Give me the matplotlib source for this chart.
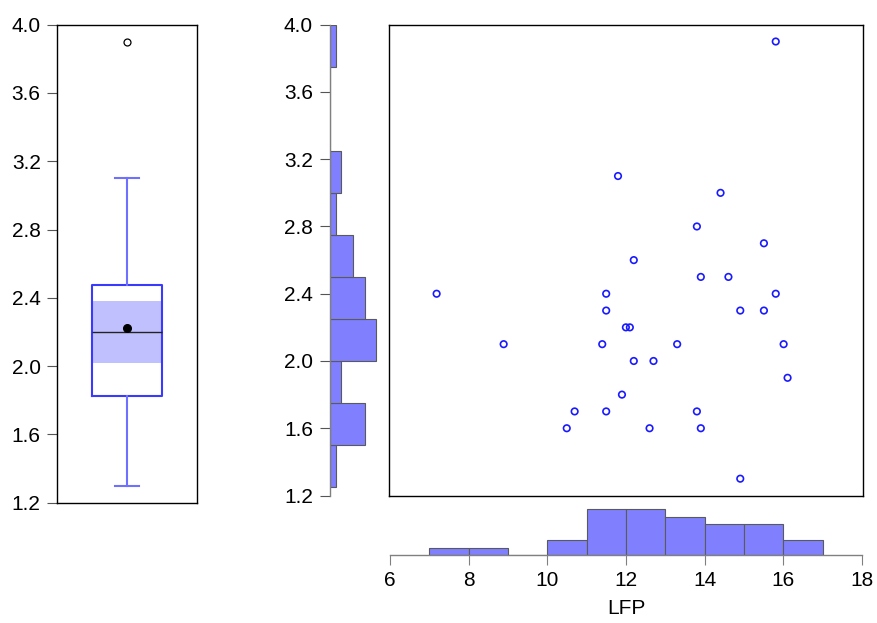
import numpy as np
import matplotlib
matplotlib.use("Agg")
import matplotlib.pyplot as plt
from matplotlib.patches import Rectangle

plt.rcParams['font.family'] = ['Liberation Sans', 'DejaVu Sans']

# Data (LFP on x, second variable on y)
lfp = [15.8, 11.8, 14.4, 13.8, 15.5, 12.2, 13.9, 14.6, 7.2, 11.5, 15.8,
       11.5, 14.9, 15.5, 12.0, 12.1, 8.9, 11.4, 13.3, 16.0, 12.2, 12.7,
       16.1, 11.9, 10.7, 11.5, 13.8, 10.5, 12.6, 13.9, 14.9]
yvar = [3.9, 3.1, 3.0, 2.8, 2.7, 2.6, 2.5, 2.5, 2.4, 2.4, 2.4,
        2.3, 2.3, 2.3, 2.2, 2.2, 2.1, 2.1, 2.1, 2.1, 2.0, 2.0,
        1.9, 1.8, 1.7, 1.7, 1.7, 1.6, 1.6, 1.6, 1.3]

x_bins = np.arange(7, 18, 1)
y_bins = np.arange(1.25, 4.01, 0.25)
y_ticks = [1.2, 1.6, 2.0, 2.4, 2.8, 3.2, 3.6, 4.0]
x_ticks = [6, 8, 10, 12, 14, 16, 18]
x_label = "LFP"

W, H = 877, 623
fig = plt.figure(figsize=(W / 100, H / 100), dpi=100)

def ax_px(x0, y0, x1, y1):
    return fig.add_axes([x0 / W, 1 - y1 / H, (x1 - x0) / W, (y1 - y0) / H])

FS = 15
bar_color = '#8080ff'
bar_edge = '#5a5a5a'
tick_kw = dict(labelsize=FS, length=7, width=0.8, pad=5, color='#555555')

# ---------- Box plot panel ----------
axb = ax_px(57.3, 24.7, 196.7, 502.7)
y = np.array(yvar)
q1, med, q3 = np.quantile(y, [0.25, 0.5, 0.75], method='hazen')
iqr = q3 - q1
lo_fence, hi_fence = q1 - 1.5 * iqr, q3 + 1.5 * iqr
wlo = y[y >= lo_fence].min()
whi = y[y <= hi_fence].max()
fliers = y[(y < lo_fence) | (y > hi_fence)]
ci = 1.57 * iqr / np.sqrt(len(y))
stats = [dict(med=med, q1=q1, q3=q3, whislo=wlo, whishi=whi,
              fliers=fliers, mean=y.mean(), label='')]
axb.add_patch(Rectangle((0.25, med - ci), 0.5, 2 * ci, facecolor='#c0c0ff',
                        edgecolor='none', zorder=1))
axb.bxp(stats, positions=[0.5], widths=0.5, capwidths=0.166, showmeans=True,
        boxprops=dict(color='#3a3aff', linewidth=1.5),
        whiskerprops=dict(color='#7070ff', linewidth=1.5),
        capprops=dict(color='#7070ff', linewidth=1.5),
        medianprops=dict(color='#222222', linewidth=1.0),
        meanprops=dict(marker='o', markerfacecolor='black', markeredgecolor='black',
                       markersize=5.5),
        flierprops=dict(marker='o', markerfacecolor='none', markeredgecolor='black',
                        markersize=5, markeredgewidth=0.9),
        manage_ticks=False, zorder=2)
axb.set_xlim(0, 1)
axb.set_ylim(1.2, 4.0)
axb.set_xticks([])
axb.set_yticks(y_ticks)
axb.set_yticklabels([f"{v:.1f}" for v in y_ticks])
axb.tick_params(axis='y', **tick_kw)
for s in axb.spines.values():
    s.set_color('black')
    s.set_linewidth(1.0)

# ---------- Marginal histogram (y) ----------
axh = ax_px(329.7, 24.7, 389.3, 495.5)
axh.hist(yvar, bins=y_bins, orientation='horizontal', color=bar_color,
         edgecolor=bar_edge, linewidth=0.8)
axh.set_xlim(0, (389.3 - 329.7) / 5.83)
axh.set_ylim(1.2, 4.0)
axh.set_xticks([])
axh.set_yticks(y_ticks)
axh.set_yticklabels([f"{v:.1f}" for v in y_ticks])
axh.tick_params(axis='y', **tick_kw)
for k in ['top', 'right', 'bottom']:
    axh.spines[k].set_visible(False)
axh.spines['left'].set_color('#808080')
axh.spines['left'].set_linewidth(1.0)
axh.patch.set_alpha(0)

# ---------- Scatter ----------
axs = ax_px(389.3, 24.7, 862.5, 495.5)
axs.scatter(lfp, yvar, s=22, facecolors='none', edgecolors='#1a1aff', linewidths=1.2)
axs.set_xlim(6, 18)
axs.set_ylim(1.2, 4.0)
axs.set_xticks([])
axs.set_yticks([])
for s in axs.spines.values():
    s.set_color('black')
    s.set_linewidth(1.0)

# ---------- Marginal histogram (x) ----------
axx = ax_px(390.0, 503.0, 862.0, 555.3)
axx.hist(lfp, bins=x_bins, color=bar_color, edgecolor=bar_edge, linewidth=0.8)
axx.set_xlim(6, 18)
axx.set_ylim(0, (555.3 - 503.0) / 7.72)
axx.set_yticks([])
axx.set_xticks(x_ticks)
axx.set_xticklabels([str(v) for v in x_ticks])
axx.tick_params(axis='x', labelsize=FS, length=7, width=0.8, pad=4, color='#808080')
for k in ['top', 'right', 'left']:
    axx.spines[k].set_visible(False)
axx.spines['bottom'].set_color('#808080')
axx.spines['bottom'].set_linewidth(1.0)
axx.set_xlabel(x_label, fontsize=FS, labelpad=7)
axx.patch.set_alpha(0)

fig.savefig("out.png", dpi=100)
